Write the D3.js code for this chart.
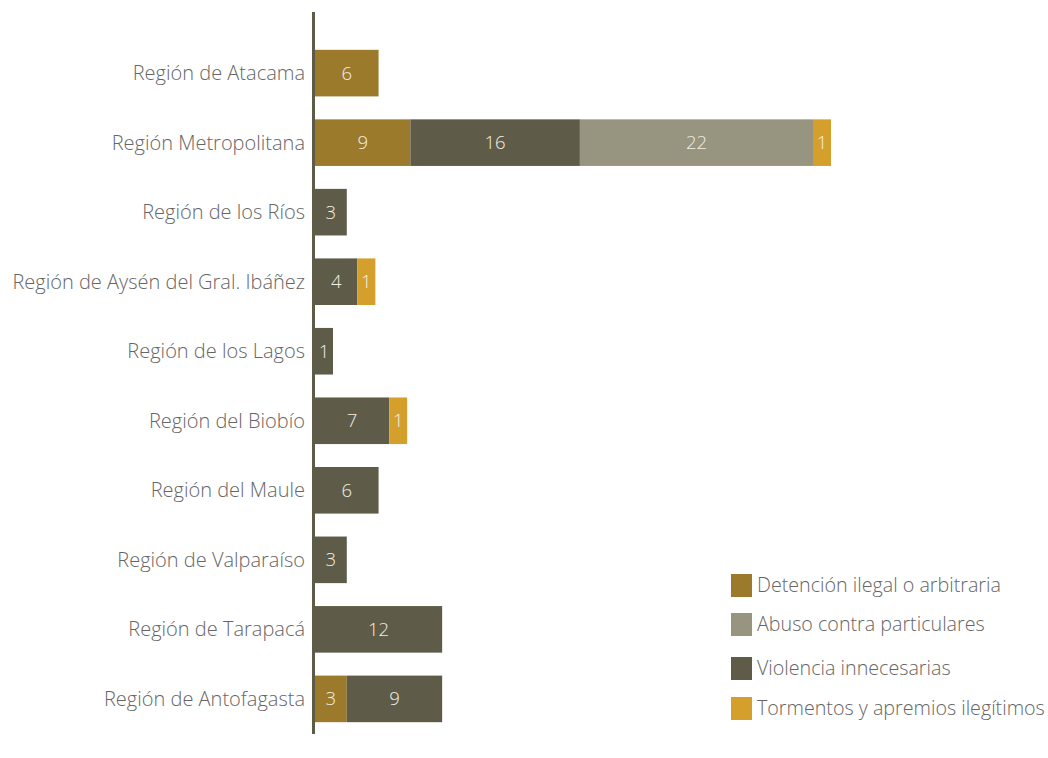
<!DOCTYPE html>
<html>
<head>
<meta charset="utf-8">
<script src="https://cdn.jsdelivr.net/npm/d3@7"></script>
<style>
  body { margin: 0; background: #fff; }
  text { font-family: "Open Sans", "Noto Sans", sans-serif; }
</style>
</head>
<body>
<script>
// regions, top to bottom
var regions = ["Región de Atacama", "Región Metropolitana", "Región de los Ríos",
  "Región de Aysén del Gral. Ibáñez", "Región de los Lagos", "Región del Biobío",
  "Región del Maule", "Región de Valparaíso", "Región de Tarapacá", "Región de Antofagasta"];

var detencion  = [6, 9, 0, 0, 0, 0, 0, 0, 0, 3];
var violencia  = [0, 16, 3, 4, 1, 7, 6, 3, 12, 9];
var abuso      = [0, 22, 0, 0, 0, 0, 0, 0, 0, 0];
var tormentos  = [0, 1, 0, 1, 0, 1, 0, 0, 0, 0];

var seriesNames = ["Detención ilegal o arbitraria", "Violencia innecesarias",
  "Abuso contra particulares", "Tormentos y apremios ilegítimos"];
var legendOrder = ["Detención ilegal o arbitraria", "Abuso contra particulares",
  "Violencia innecesarias", "Tormentos y apremios ilegítimos"];

var colors = {
  "Detención ilegal o arbitraria": "#9b7a2c",
  "Violencia innecesarias": "#5e5b48",
  "Abuso contra particulares": "#97957f",
  "Tormentos y apremios ilegítimos": "#d4a02b"
};

var width = 1048, height = 758;
var minSeg = 18; // small segments are drawn at least this wide

var svg = d3.select("body").append("svg")
    .attr("width", width)
    .attr("height", height);

// build table for stack
var table = regions.map(function(r, i) {
  var row = {region: r};
  row[seriesNames[0]] = detencion[i];
  row[seriesNames[1]] = violencia[i];
  row[seriesNames[2]] = abuso[i];
  row[seriesNames[3]] = tormentos[i];
  return row;
});

var stacked = d3.stack().keys(seriesNames)(table);

var x = d3.scaleLinear().domain([0, 47]).range([315, 813]);
var y = d3.scaleBand().domain(regions).range([38, 734]).paddingInner(0.33).paddingOuter(0.17);

function segW(d) { return Math.max(x(d[1]) - x(d[0]), minSeg); }

var layers = svg.selectAll(".layer").data(stacked)
  .enter().append("g")
    .attr("class", "layer")
    .attr("fill", function(d) { return colors[d.key]; });

layers.selectAll("rect").data(function(d) { return d.filter(function(s) { return s[1] > s[0]; }); })
  .enter().append("rect")
    .attr("x", function(d) { return x(d[0]); })
    .attr("y", function(d) { return y(d.data.region); })
    .attr("width", segW)
    .attr("height", y.bandwidth());

layers.selectAll("text").data(function(d) { return d.filter(function(s) { return s[1] > s[0]; }); })
  .enter().append("text")
    .attr("x", function(d) { return x(d[0]) + segW(d) / 2; })
    .attr("y", function(d) { return y(d.data.region) + y.bandwidth() / 2; })
    .attr("dy", "0.35em")
    .attr("text-anchor", "middle")
    .attr("fill", "#f3efe2")
    .style("font-size", "18.5px")
    .style("font-weight", 300)
    .text(function(d) { return d[1] - d[0]; });

// category labels
svg.selectAll(".cat").data(regions)
  .enter().append("text")
    .attr("class", "cat")
    .attr("x", 305)
    .attr("y", function(d) { return y(d) + y.bandwidth() / 2; })
    .attr("dy", "0.35em")
    .attr("text-anchor", "end")
    .attr("fill", "#666")
    .style("font-size", "20px")
    .style("font-weight", 300)
    .text(function(d) { return d; });

// vertical axis line
svg.append("line")
    .attr("x1", 313.5).attr("x2", 313.5)
    .attr("y1", 12).attr("y2", 734)
    .style("stroke", "#5e5b48")
    .style("stroke-width", 3);

// legend
var legendY = [574, 613, 657, 697];
var legend = svg.selectAll(".legend").data(legendOrder)
  .enter().append("g")
    .attr("class", "legend")
    .attr("transform", function(d, i) { return "translate(731," + legendY[i] + ")"; });

legend.append("rect")
    .attr("width", 21)
    .attr("height", 23)
    .attr("fill", function(d) { return colors[d]; });

legend.append("text")
    .attr("x", 26)
    .attr("y", 11.5)
    .attr("dy", "0.35em")
    .attr("fill", "#666")
    .style("font-size", "19.7px")
    .style("font-weight", 300)
    .text(function(d) { return d; });
</script>
</body>
</html>
